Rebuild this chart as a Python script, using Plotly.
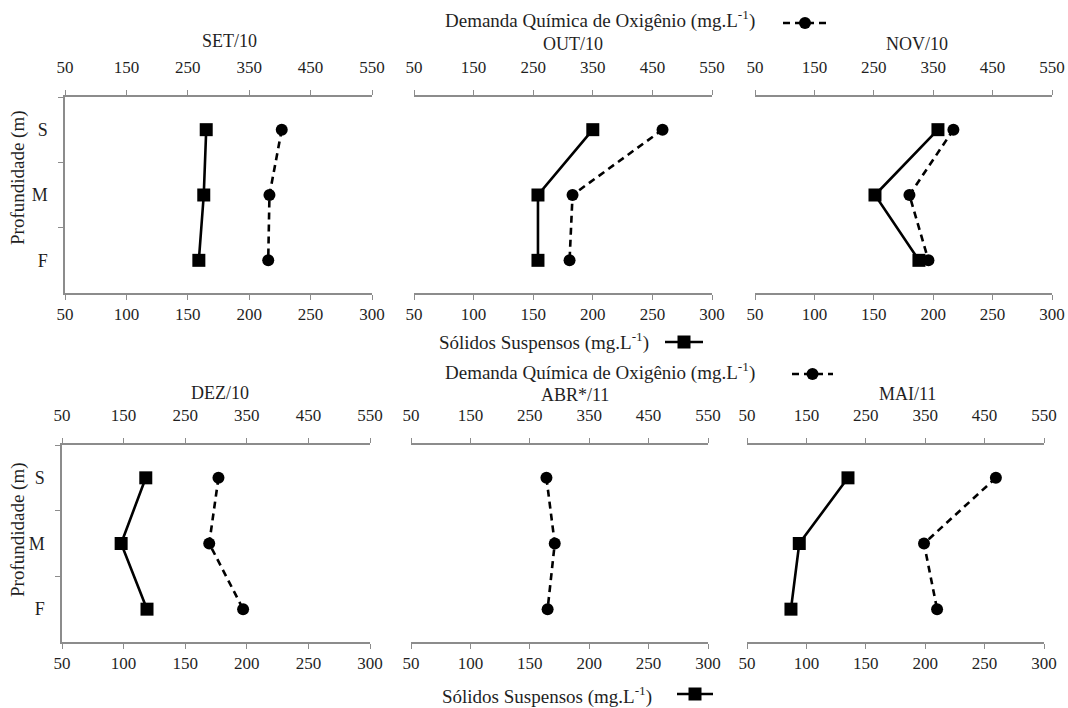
import plotly.graph_objects as go

# ---------------- data ----------------
depths = ["S", "M", "F"]
months = ["SET/10", "OUT/10", "NOV/10", "DEZ/10", "ABR*/11", "MAI/11"]

ss_set10 = [165, 163, 159]
ss_out10 = [200, 154, 154]
ss_nov10 = [204, 151, 188]
ss_dez10 = [118, 98, 119]
ss_abr11 = [None, None, None]   # no SS data in ABR*/11
ss_mai11 = [135, 94, 87]

dqo_set10 = [403, 383, 381]
dqo_out10 = [467, 316, 311]
dqo_nov10 = [384, 310, 342]
dqo_dez10 = [304, 289, 344]
dqo_abr11 = [278, 292, 280]
dqo_mai11 = [469, 348, 370]

ss_series = [ss_set10, ss_out10, ss_nov10, ss_dez10, ss_abr11, ss_mai11]
dqo_series = [dqo_set10, dqo_out10, dqo_nov10, dqo_dez10, dqo_abr11, dqo_mai11]

ss_ticks = [50, 100, 150, 200, 250, 300]
dqo_ticks = [50, 150, 250, 350, 450, 550]

# ---------------- layout geometry (pixels) ----------------
W, H = 1068, 708
# (left, right, top, bottom) of each plot area in pixels
panels_px = [
    (65, 372, 97, 293), (414, 712, 97, 293), (755, 1052, 97, 293),
    (62, 370, 445, 642), (411, 708, 445, 642), (747, 1044, 445, 642),
]
title_pos = [(229, 41), (573, 44), (917, 44), (220, 393), (575, 395), (907, 394)]

FONT = "Liberation Serif"
TXT = "#1f1f1f"
AX = "#8c8c8c"

def px(x):
    return x / W

def py(y):
    return 1 - y / H

fig = go.Figure()
layout = dict(
    template="none",
    width=W, height=H, margin=dict(l=0, r=0, t=0, b=0, pad=0, autoexpand=False),
    paper_bgcolor="white", plot_bgcolor="white", showlegend=False,
    font=dict(family=FONT, size=17, color=TXT),
)

annotations = []
shapes = []

def ann(text, x, y, size=18, angle=0):
    return dict(text=text, x=px(x), y=py(y), xref="paper", yref="paper",
                xanchor="center", yanchor="middle", showarrow=False,
                textangle=angle, font=dict(family=FONT, size=size, color=TXT))

for i, (l, r, t, b) in enumerate(panels_px):
    n = i + 1
    xb = 2 * i + 1
    xt = 2 * i + 2
    xb_name = "xaxis" if xb == 1 else f"xaxis{xb}"
    xt_name = f"xaxis{xt}"
    y_name = "yaxis" if n == 1 else f"yaxis{n}"
    xb_ref = "x" if xb == 1 else f"x{xb}"
    xt_ref = f"x{xt}"
    y_ref = "y" if n == 1 else f"y{n}"
    first_col = (i % 3 == 0)

    common = dict(showline=True, linecolor=AX, linewidth=1.5, ticks="outside",
                  tickcolor=AX, tickwidth=1.3, ticklen=5, showgrid=False,
                  zeroline=False, automargin=False, mirror=False,
                  tickfont=dict(family=FONT, size=17, color=TXT))

    layout[xb_name] = dict(common, domain=[px(l), px(r)], range=[50, 300],
                           tickvals=ss_ticks, side="bottom", anchor=y_ref,
                           ticklabelstandoff=0)
    layout[xt_name] = dict(common, domain=[px(l), px(r)], range=[50, 550],
                           tickvals=dqo_ticks, side="top", anchor=y_ref,
                           overlaying=xb_ref, ticklabelstandoff=10)
    layout[y_name] = dict(common, domain=[py(b), py(t)], type="category",
                          categoryarray=depths, range=[2.5, -0.5],
                          tickson="boundaries", anchor=xb_ref, side="left",
                          showline=first_col, showticklabels=first_col,
                          ticks="outside" if first_col else "",
                          tickfont=dict(family=FONT, size=18, color=TXT),
                          ticklabelstandoff=12)

    fig.add_trace(go.Scatter(
        x=ss_series[i], y=depths, xaxis=xb_ref, yaxis=y_ref,
        mode="lines+markers", name="Sólidos Suspensos",
        line=dict(color="black", width=2.6),
        marker=dict(symbol="square", size=13, color="black"),
    ))
    fig.add_trace(go.Scatter(
        x=dqo_series[i], y=depths, xaxis=xt_ref, yaxis=y_ref,
        mode="lines+markers", name="Demanda Química de Oxigênio",
        line=dict(color="black", width=2.6, dash="7px,5px"),
        marker=dict(symbol="circle", size=12, color="black"),
    ))

    tx, ty = title_pos[i]
    annotations.append(ann(months[i], tx, ty, 18))

# y-axis titles
for cy in (178, 530):
    annotations.append(ann("Profundidade (m)", 18, cy, 19, -90))

# legend-like keys
dqo_label = "Demanda Química de Oxigênio (mg.L<sup>-1</sup>)"
ss_label = "Sólidos Suspensos (mg.L<sup>-1</sup>)"
for (tx0, tx1, ty, lx0, lx1, ly) in [(432, 767, 19, 783, 827, 23),
                                     (432, 767, 371, 792, 833, 374)]:
    annotations.append(ann(dqo_label, (tx0 + tx1) / 2, ty, 19))
    shapes.append(dict(type="line", xref="paper", yref="paper",
                       x0=px(lx0), x1=px(lx1), y0=py(ly), y1=py(ly),
                       line=dict(color="black", width=2.6, dash="7px,5px")))
    cx = (lx0 + lx1) / 2
    shapes.append(dict(type="circle", xref="paper", yref="paper",
                       x0=px(cx - 6), x1=px(cx + 6), y0=py(ly - 6), y1=py(ly + 6),
                       fillcolor="black", line=dict(color="black", width=0)))

for (tx0, tx1, ty, lx0, lx1, ly) in [(430, 657, 341, 665, 703, 342),
                                     (433, 660, 695, 677, 713, 694)]:
    annotations.append(ann(ss_label, (tx0 + tx1) / 2, ty, 19))
    shapes.append(dict(type="line", xref="paper", yref="paper",
                       x0=px(lx0), x1=px(lx1), y0=py(ly), y1=py(ly),
                       line=dict(color="black", width=2.6)))
    cx = (lx0 + lx1) / 2
    shapes.append(dict(type="rect", xref="paper", yref="paper",
                       x0=px(cx - 6.5), x1=px(cx + 6.5), y0=py(ly - 6.5), y1=py(ly + 6.5),
                       fillcolor="black", line=dict(color="black", width=0)))

layout["annotations"] = annotations
layout["shapes"] = shapes
fig.update_layout(**layout)
fig.write_html("out.html")
